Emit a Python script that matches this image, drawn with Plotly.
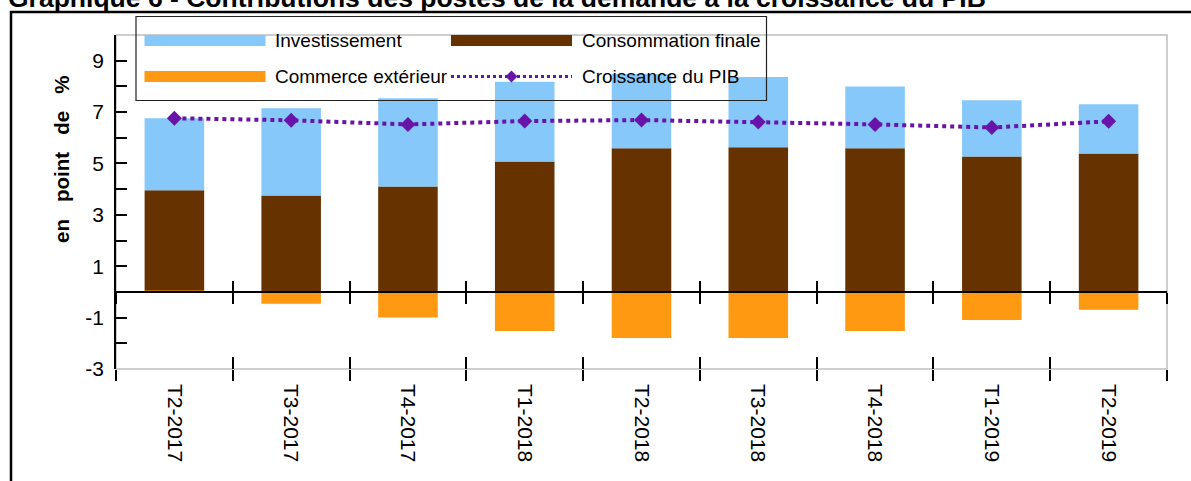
import plotly.graph_objects as go

# Quarterly contributions (percentage points)
quarters = ["T2-2017", "T3-2017", "T4-2017", "T1-2018", "T2-2018",
            "T3-2018", "T4-2018", "T1-2019", "T2-2019"]
investissement = [2.80, 3.40, 3.44, 3.10, 2.89, 2.74, 2.41, 2.19, 1.91]
consommation = [3.90, 3.75, 4.10, 5.08, 5.59, 5.63, 5.59, 5.27, 5.39]
commerce = [0.06, -0.46, -1.00, -1.52, -1.79, -1.79, -1.52, -1.09, -0.69]
croissance_pib = [6.76, 6.68, 6.52, 6.65, 6.69, 6.61, 6.52, 6.40, 6.64]

y_ticks = list(range(-3, 11))
y_labels = [str(v) if v % 2 else "" for v in y_ticks]

names = {
    "inv": "Investissement",
    "cons": "Consommation finale",
    "com": "Commerce extérieur",
    "pib": "Croissance du PIB",
}

BLUE = "#86C8FA"
BROWN = "#663300"
ORANGE = "#FF9912"
PURPLE = "#6814A8"
FONT = "Liberation Sans, Arial, sans-serif"

W, H = 1191, 481
L, R, T, B = 116, 24, 35, 112
PW, PH = W - L - R, H - T - B


def px(x):
    return (x - L) / PW


def py(y):
    return (H - B - y) / PH


n = len(quarters)
x_range = [-0.5, n - 0.5]
bounds = [i - 0.5 for i in range(n + 1)]
y_min, y_max = y_ticks[0], y_ticks[-1]
zero_pos = (0 - y_min) / (y_max - y_min)

fig = go.Figure()
bar_w = 0.51
fig.add_bar(x=quarters, y=commerce, name=names["com"], marker_color=ORANGE,
            marker_line_width=0, width=bar_w, showlegend=False)
fig.add_bar(x=quarters, y=consommation, name=names["cons"], marker_color=BROWN,
            marker_line_width=0, width=bar_w, showlegend=False)
fig.add_bar(x=quarters, y=investissement, name=names["inv"], marker_color=BLUE,
            marker_line_width=0, width=bar_w, showlegend=False)
fig.add_scatter(x=quarters, y=croissance_pib, name=names["pib"], mode="lines+markers",
                line=dict(color=PURPLE, width=4, dash="dot"),
                marker=dict(symbol="diamond", size=11.5, color=PURPLE),
                showlegend=False)

# empty traces so the overlay axes (crossing ticks) are drawn
for ax in ("x2", "x3", "x4"):
    fig.add_scatter(x=[None], y=[None], xaxis=ax, yaxis="y", showlegend=False,
                    hoverinfo="skip")

tick_common = dict(tickwidth=1.5, tickcolor="black", showgrid=False,
                   zeroline=False)
overlay_common = dict(overlaying="x", range=x_range, tickvals=bounds,
                      showticklabels=False, **tick_common)

fig.update_layout(
    width=W, height=H,
    margin=dict(l=L, r=R, t=T, b=B, autoexpand=False),
    paper_bgcolor="white", plot_bgcolor="white",
    font=dict(family=FONT, size=20, color="black"),
    barmode="relative",
    xaxis=dict(type="category", range=x_range, tickson="boundaries",
               ticks="outside", ticklen=11, tickangle=90,
               tickfont=dict(size=21, color="black"), ticklabelstandoff=14,
               showline=False, **tick_common),
    xaxis2=dict(anchor="y", ticks="inside", ticklen=12, showline=False,
                **overlay_common),
    xaxis3=dict(anchor="free", position=zero_pos, ticks="outside", ticklen=11,
                showline=True, linecolor="black", linewidth=1.5,
                **overlay_common),
    xaxis4=dict(anchor="free", position=zero_pos, ticks="inside", ticklen=11,
                showline=False, **overlay_common),
    yaxis=dict(range=[y_min, y_max], tickvals=y_ticks, ticktext=y_labels,
               ticks="inside", ticklen=11, showline=True, linecolor="black",
               linewidth=1.5, tickfont=dict(size=21, color="black"),
               ticklabelstandoff=6, **tick_common),
)

shapes = [
    # plot area frame
    dict(type="rect", xref="paper", yref="paper", x0=0, x1=1, y0=0, y1=1,
         line=dict(color="#BFBFBF", width=1.5), layer="below"),
    # outer chart frame
    dict(type="rect", xref="paper", yref="paper", x0=px(11), x1=px(1210),
         y0=py(500), y1=py(12), line=dict(color="black", width=2.5)),
    # legend box
    dict(type="rect", xref="paper", yref="paper", x0=px(136), x1=px(766.5),
         y0=py(100.5), y1=py(16.5), line=dict(color="#222222", width=1.2)),
    dict(type="rect", xref="paper", yref="paper", x0=px(144.5), x1=px(265.5),
         y0=py(46), y1=py(35), fillcolor=BLUE, line_width=0),
    dict(type="rect", xref="paper", yref="paper", x0=px(144.5), x1=px(265.5),
         y0=py(82), y1=py(71), fillcolor=ORANGE, line_width=0),
    dict(type="rect", xref="paper", yref="paper", x0=px(451), x1=px(572),
         y0=py(46), y1=py(35), fillcolor=BROWN, line_width=0),
    dict(type="line", xref="paper", yref="paper", x0=px(451), x1=px(572),
         y0=py(76.5), y1=py(76.5), line=dict(color=PURPLE, width=3, dash="dot")),
    dict(type="path", xref="paper", yref="paper", xsizemode="pixel",
         ysizemode="pixel", xanchor=px(511.5), yanchor=py(76.5),
         path="M -6 0 L 0 6 L 6 0 L 0 -6 Z", fillcolor=PURPLE, line_width=0),
]
fig.update_layout(shapes=shapes)

annotations = [
    dict(text="<b>Graphique 6 - Contributions des postes de la demande à la croissance du PIB</b>",
         xref="paper", yref="paper", x=px(6), y=py(-2), xanchor="left",
         yanchor="middle", showarrow=False, font=dict(size=26.5, color="black")),
    dict(text="<b>en\u00a0\u00a0\u00a0point\u00a0\u00a0\u00a0de\u00a0\u00a0\u00a0%</b>",
         xref="paper", yref="paper", x=px(61), y=py(160), textangle=-90,
         xanchor="center", yanchor="middle", showarrow=False,
         font=dict(size=20.5, color="black")),
]
for label, lx, ly in [(names["inv"], 273, 40.5), (names["com"], 273, 76.5),
                      (names["cons"], 580, 40.5), (names["pib"], 580, 76.5)]:
    annotations.append(dict(text=label, xref="paper", yref="paper", x=px(lx),
                            y=py(ly), xanchor="left", yanchor="middle",
                            showarrow=False, font=dict(size=19, color="black")))
fig.update_layout(annotations=annotations)

fig.write_html("out.html")
